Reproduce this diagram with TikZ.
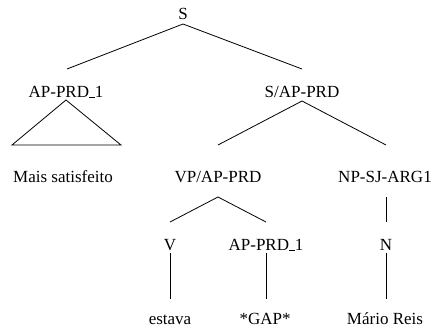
\documentclass[tikz,border=0pt]{standalone}
\usepackage{fontspec}
\setmainfont{Liberation Serif}
% short low rule used as the index separator in labels
\newcommand{\idxsep}{\kern0.02em\rule[-0.04em]{0.3em}{0.06em}\kern0.02em}
\begin{document}
\begin{tikzpicture}[x=1pt,y=-1pt,
  lbl/.style={anchor=base,inner sep=0pt,font=\fontsize{17}{20}\selectfont},
  edge/.style={line width=0.8pt}]
\useasboundingbox (0,0) rectangle (435,334);
% category labels and words, placed on their baselines
\node[lbl] (s)    at (183,20)  {S};
\node[lbl] (ap1)  at (66,97)   {AP-PRD\idxsep 1};
\node[lbl] (sap)  at (302,97)  {S/AP-PRD};
\node[lbl] (mais) at (63,182)  {Mais satisfeito};
\node[lbl] (vp)   at (218,182) {VP/AP-PRD};
\node[lbl] (np)   at (385,182) {NP-SJ-ARG1};
\node[lbl] (v)    at (170,250) {V};
\node[lbl] (ap2)  at (266,250) {AP-PRD\idxsep 1};
\node[lbl] (n)    at (386,250) {N};
\node[lbl] (est)  at (170,324) {estava};
\node[lbl] (gap)  at (265,324) {*GAP*};
\node[lbl] (mar)  at (385,324) {Mário Reis};
% branch end points
\coordinate (sB)    at (183,24);
\coordinate (ap1T)  at (67,69);
\coordinate (sapT)  at (302,69);
\coordinate (ap1B)  at (66,100);
\coordinate (triL)  at (12,145);
\coordinate (triR)  at (121,145);
\coordinate (sapB)  at (302,101);
\coordinate (vpT)   at (218,145);
\coordinate (npT)   at (386,145);
\coordinate (vpB)   at (218,197);
\coordinate (vT)    at (170,222);
\coordinate (ap2T)  at (266,222);
\coordinate (npB)   at (386,197);
\coordinate (nT)    at (386,222);
\coordinate (vB)    at (170,253);
\coordinate (estT)  at (170,299);
\coordinate (ap2B)  at (266,253);
\coordinate (gapT)  at (266,299);
\coordinate (nB)    at (386,253);
\coordinate (marT)  at (386,299);
% branches
\draw[edge] (ap1T) -- (sB) -- (sapT);
\draw[edge] (triL) -- (ap1B) -- (triR) -- cycle;
\draw[edge] (vpT) -- (sapB) -- (npT);
\draw[edge] (vT) -- (vpB) -- (ap2T);
\draw[edge] (npB) -- (nT);
\draw[edge] (vB) -- (estT);
\draw[edge] (ap2B) -- (gapT);
\draw[edge] (nB) -- (marT);
\end{tikzpicture}
\end{document}
